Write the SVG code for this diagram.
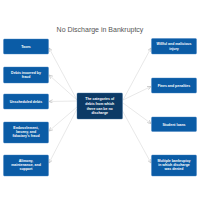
<svg xmlns="http://www.w3.org/2000/svg" width="200" height="200" viewBox="0 0 200 200">
<defs>
<style>
.bg{fill:#ffffff}
.box{fill:#0b5ca6;stroke:#3f7fc0;stroke-width:0.4}
.core{fill:#0c3a66;stroke:#3f6f9c;stroke-width:0.4}
.t{font-family:"Liberation Sans",Arial,sans-serif;font-size:3.5px;font-weight:bold;fill:#ffffff;text-anchor:middle}
.title{font-family:"Liberation Sans",Arial,sans-serif;font-size:7px;fill:#555555;text-anchor:middle}
.c{stroke:#d9d9d9;stroke-width:0.6;fill:none;marker-end:url(#ah)}
</style>
<marker id="ah" viewBox="0 0 6 6" refX="5.5" refY="3" markerWidth="4" markerHeight="4" orient="auto" markerUnits="userSpaceOnUse">
<path d="M0,0.5 L5.5,3 L0,5.5" fill="none" stroke="#bbbbbb" stroke-width="1"/>
</marker>
</defs>
<rect class="bg" x="0" y="0" width="200" height="200"/>
<text class="title" x="100" y="31.5">No Discharge in Bankruptcy</text>
<g id="connectors">
<line class="c" x1="77" y1="100" x2="49" y2="48"/>
<line class="c" x1="77" y1="100" x2="49" y2="75"/>
<line class="c" x1="77" y1="101" x2="49" y2="101.5"/>
<line class="c" x1="77" y1="107" x2="49" y2="131"/>
<line class="c" x1="77" y1="109" x2="49" y2="163"/>
<line class="c" x1="123" y1="100" x2="151" y2="48"/>
<line class="c" x1="123" y1="100" x2="151" y2="86.5"/>
<line class="c" x1="123" y1="103" x2="151" y2="123.5"/>
<line class="c" x1="122" y1="110" x2="151" y2="163"/>
</g>
<g id="center">
<rect class="core" x="77" y="93" width="45.5" height="26" rx="1"/>
<text class="t" x="99.75" y="100.3">The categories of</text>
<text class="t" x="99.75" y="104.6">debts from which</text>
<text class="t" x="99.75" y="110">there can be no</text>
<text class="t" x="99.75" y="114.3">discharge</text>
</g>
<g id="taxes">
<rect class="box" x="3.5" y="39" width="45" height="15" rx="1"/>
<text class="t" x="26" y="47.8">Taxes</text>
</g>
<g id="fraud">
<rect class="box" x="3.5" y="67" width="45" height="16" rx="1"/>
<text class="t" x="26" y="74">Debts incurred by</text>
<text class="t" x="26" y="78.3">fraud</text>
</g>
<g id="unscheduled">
<rect class="box" x="3.5" y="94" width="45" height="15" rx="1"/>
<text class="t" x="26" y="102.8">Unscheduled debts</text>
</g>
<g id="embezzlement">
<rect class="box" x="3.5" y="122" width="45" height="21" rx="1"/>
<text class="t" x="26" y="128.6">Embezzlement,</text>
<text class="t" x="26" y="132.9">larceny, and</text>
<text class="t" x="26" y="137.2">fiduciary's fraud</text>
</g>
<g id="alimony">
<rect class="box" x="3.5" y="155" width="45" height="21" rx="1"/>
<text class="t" x="26" y="161.6">Alimony,</text>
<text class="t" x="26" y="165.9">maintenance, and</text>
<text class="t" x="26" y="170.2">support</text>
</g>
<g id="willful">
<rect class="box" x="151.5" y="38.5" width="45" height="15.5" rx="1"/>
<text class="t" x="174" y="45.3">Willful and malicious</text>
<text class="t" x="174" y="49.6">injury</text>
</g>
<g id="fines">
<rect class="box" x="151.5" y="78" width="45" height="15" rx="1"/>
<text class="t" x="174" y="86.8">Fines and penalties</text>
</g>
<g id="student">
<rect class="box" x="151.5" y="117" width="45" height="14.5" rx="1"/>
<text class="t" x="174" y="125.5">Student loans</text>
</g>
<g id="multiple">
<rect class="box" x="151.5" y="155" width="45" height="21" rx="1"/>
<text class="t" x="174" y="161.6">Multiple bankruptcy</text>
<text class="t" x="174" y="165.9">in which discharge</text>
<text class="t" x="174" y="170.2">was denied</text>
</g>
</svg>
